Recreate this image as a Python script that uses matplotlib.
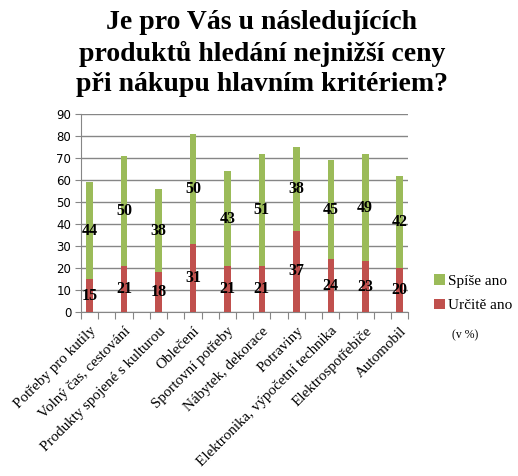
import matplotlib
matplotlib.use("Agg")
import matplotlib.pyplot as plt
from matplotlib.font_manager import FontProperties
import numpy as np

categories = ["Potřeby pro kutily", "Volný čas, cestování", "Produkty spojené s kulturou",
              "Oblečení", "Sportovní potřeby", "Nábytek, dekorace", "Potraviny",
              "Elektronika, výpočetní technika", "Elektrospotřebiče", "Automobil"]
urcite_ano = [15, 21, 18, 31, 21, 21, 37, 24, 23, 20]
spise_ano = [44, 50, 38, 50, 43, 51, 38, 45, 49, 42]
series_names = ["Spíše ano", "Určitě ano"]
title = "Je pro Vás u následujících\nproduktů hledání nejnižší ceny\npři nákupu hlavním kritériem?"

RED = "#C0504D"
GREEN = "#9BBB59"
GRID = "#868686"
SERIF = ["Liberation Serif", "DejaVu Serif"]

fig = plt.figure(figsize=(5.18, 4.76), dpi=100)
ax = fig.add_axes([81/518, 1-312/476, (408.3-81)/518, (312-114.3)/476])

x = np.arange(len(categories)) * 2
w = 0.38
ax.bar(x, urcite_ano, width=w, color=RED, zorder=3, label=series_names[1])
ax.bar(x, spise_ano, width=w, bottom=urcite_ano, color=GREEN, zorder=3, label=series_names[0])

for xi, r, g in zip(x, urcite_ano, spise_ano):
    ax.text(xi, r/2, str(r), ha="center", va="center", fontsize=11.5, family=SERIF,
            fontweight="bold", color="black", zorder=4)
    ax.text(xi, r + g/2, str(g), ha="center", va="center", fontsize=11.5, family=SERIF,
            fontweight="bold", color="black", zorder=4)

ax.set_xlim(-0.5, 2*len(categories) - 1.5)
ax.set_ylim(0, 90)
ax.set_yticks(np.arange(0, 91, 10))
ax.yaxis.grid(True, color=GRID, linewidth=1, zorder=0)
ax.set_axisbelow(True)

ax.set_xticks(np.arange(-0.5, 2*len(categories) - 1, 1.0))
ax.set_xticklabels([])
ax.set_xticks(x, minor=True)
ax.set_xticklabels(categories, minor=True, rotation=45, ha="right", rotation_mode="anchor",
                   fontsize=10.8, family=SERIF)
ax.tick_params(axis="x", which="minor", length=0, pad=9)
ax.tick_params(axis="x", which="major", length=5, color=GRID, direction="out")
ax.tick_params(axis="y", length=4, color=GRID, labelsize=8.5, pad=3)
for lbl in ax.get_yticklabels():
    lbl.set_family("DejaVu Sans")

for s in ["top", "right"]:
    ax.spines[s].set_visible(False)
for s in ["left", "bottom"]:
    ax.spines[s].set_color(GRID)

handles, labels = ax.get_legend_handles_labels()
leg_font = FontProperties(family="Liberation Serif", size=11)
leg = fig.legend(handles[::-1], labels[::-1], loc="upper left", bbox_to_anchor=(428/518, 1-268/476),
                 frameon=False, prop=leg_font, handlelength=0.7,
                 handleheight=0.7, handletextpad=0.2, labelspacing=0.7, borderaxespad=0)
fig.text(465/518, 1-335/476, "(v %)", ha="center", va="center",
         fontproperties=FontProperties(family="Liberation Serif", size=8.5))

fig.text(262/518, 1-10/476, title, ha="center", va="top", fontsize=20, fontweight="bold",
         family=SERIF, linespacing=1.28)

fig.savefig("out.png", dpi=100)
